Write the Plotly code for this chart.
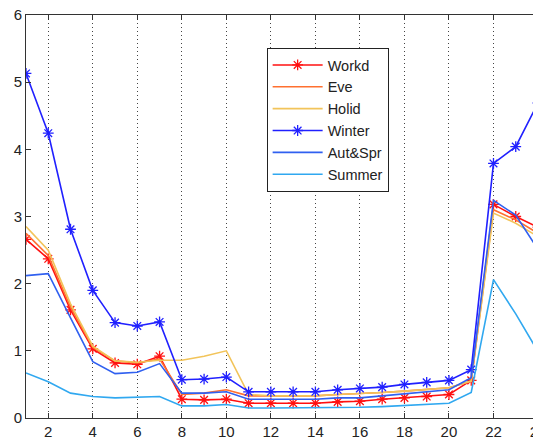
import plotly.graph_objects as go

hours = list(range(1, 25))

workd = [2.66, 2.37, 1.61, 1.03, 0.82, 0.80, 0.92, 0.28, 0.27, 0.28, 0.22, 0.22,
         0.22, 0.22, 0.24, 0.25, 0.28, 0.30, 0.32, 0.35, 0.56, 3.18, 3.00, 2.84]
eve = [2.75, 2.42, 1.65, 1.05, 0.85, 0.82, 0.88, 0.35, 0.37, 0.42, 0.33, 0.33,
       0.33, 0.33, 0.35, 0.36, 0.38, 0.40, 0.42, 0.45, 0.55, 3.10, 2.95, 2.75]
holid = [2.85, 2.50, 1.70, 1.07, 0.85, 0.83, 0.86, 0.86, 0.92, 1.00, 0.35, 0.33,
         0.33, 0.33, 0.35, 0.36, 0.38, 0.40, 0.42, 0.45, 0.55, 3.05, 2.90, 2.70]
winter = [5.13, 4.24, 2.81, 1.90, 1.42, 1.37, 1.43, 0.57, 0.58, 0.61, 0.39, 0.39,
          0.39, 0.39, 0.42, 0.44, 0.46, 0.50, 0.53, 0.56, 0.72, 3.79, 4.04, 4.69]
aut_spr = [2.12, 2.15, 1.49, 0.84, 0.66, 0.68, 0.81, 0.37, 0.37, 0.39, 0.28, 0.28,
           0.28, 0.28, 0.30, 0.30, 0.33, 0.36, 0.39, 0.42, 0.60, 3.24, 3.02, 2.51]
summer = [0.67, 0.54, 0.37, 0.32, 0.30, 0.31, 0.32, 0.18, 0.18, 0.20, 0.15, 0.15,
          0.15, 0.15, 0.16, 0.16, 0.17, 0.19, 0.20, 0.22, 0.38, 2.06, 1.55, 0.99]

series = [
    ("Workd", workd, "#FF1010", True),
    ("Eve", eve, "#FF7030", False),
    ("Holid", holid, "#F2C45A", False),
    ("Winter", winter, "#2020FF", True),
    ("Aut&Spr", aut_spr, "#3060F0", False),
    ("Summer", summer, "#30A8F0", False),
]

fig = go.Figure()
for name, vals, color, star in series:
    fig.add_trace(go.Scatter(
        x=hours, y=vals, name=name,
        mode="lines+markers" if star else "lines",
        line=dict(color=color, width=1.6),
        marker=dict(symbol="asterisk-open", size=9,
                    line=dict(color=color, width=1.3)),
    ))

# the page body adds an 8px margin, so the figure is a bit smaller than the window
fig.update_layout(
    width=533, height=433,
    margin=dict(l=18, r=3, t=7, b=23),
    plot_bgcolor="white", paper_bgcolor="white",
    font=dict(family="Liberation Sans", size=15, color="#222"),
    legend=dict(
        x=0.47, y=0.918, xanchor="left", yanchor="top",
        bgcolor="white", bordercolor="#222", borderwidth=1,
        font=dict(size=14.5), itemwidth=50, tracegroupgap=0,
    ),
)
fig.update_xaxes(
    range=[1, 24], tickvals=list(range(2, 25, 2)),
    ticklabeloverflow="allow", automargin=False,
    showgrid=True, gridcolor="#444", griddash="1px,3px", gridwidth=1,
    showline=True, linecolor="#333", mirror="ticks",
    ticks="inside", ticklen=5, tickcolor="#333", zeroline=False,
)
fig.update_yaxes(
    range=[0, 6], tickvals=list(range(0, 7)),
    ticklabeloverflow="allow", automargin=False,
    showgrid=False,
    showline=True, linecolor="#333", mirror="ticks",
    ticks="inside", ticklen=5, tickcolor="#333", zeroline=False,
)

fig.write_html("out.html")
